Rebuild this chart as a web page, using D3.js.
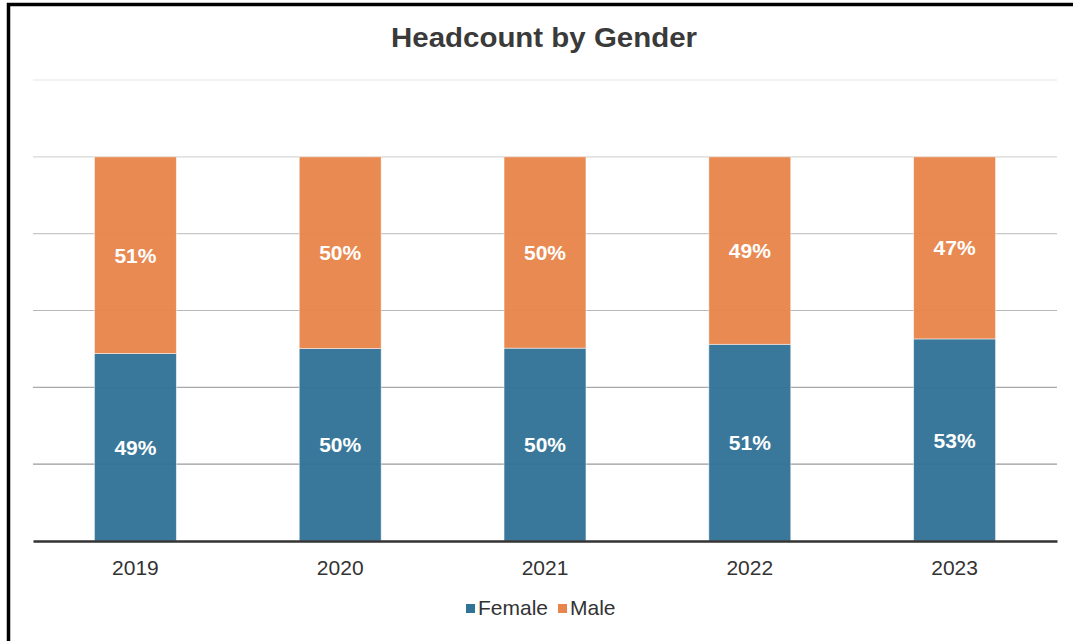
<!DOCTYPE html>
<html>
<head>
<meta charset="utf-8">
<script src="https://cdn.jsdelivr.net/npm/d3@7"></script>
<style>
  body { margin: 0; background: #fff; }
  text { font-family: "Liberation Sans", Arial, sans-serif; }
</style>
</head>
<body>
<svg id="chart"></svg>
<script>
var years = ["2019", "2020", "2021", "2022", "2023"];
var female = [48.8, 50.1, 50.2, 51.2, 52.6];
var male = [51.2, 49.9, 49.8, 48.8, 47.4];
var seriesNames = ["Female", "Male"];
var gridTicks = [0.2, 0.4, 0.6, 0.8, 1.0, 1.2];

var width = 1073,
    height = 641;

var svg = d3.select("#chart").attr("width", width).attr("height", height),
    margin = {top: 80, right: 16, bottom: 100, left: 33};

// frame (only top and left edges show in the picture)
svg.append("path")
    .attr("d", "M8.5,641V4.5H1073")
    .attr("fill", "none")
    .attr("stroke", "#000")
    .attr("stroke-width", 3.5);

var x = d3.scaleBand()
    .domain(years)
    .range([margin.left, width - margin.right])
    .paddingInner(0.6)
    .paddingOuter(0.3);

var y = d3.scaleLinear()
    .domain([0, 1.2])
    .range([height - margin.bottom, margin.top]);

var z = d3.scaleOrdinal()
    .domain(seriesNames)
    .range(["#317396", "#e8854c"]);

var gridColor = d3.scaleLinear().domain([0.2, 1.2]).range(["#9a9a9a", "#e6e6e6"]);

var data = years.map(function(d, i) { return {year: d, Female: female[i] / 100, Male: male[i] / 100}; });
var stacked = d3.stack().keys(seriesNames)(data);

svg.append("text")
    .attr("x", 544)
    .attr("y", 47)
    .attr("text-anchor", "middle")
    .attr("font-size", 27)
    .attr("font-weight", "bold")
    .attr("fill", "#3a3a3a")
    .attr("textLength", 306)
    .attr("lengthAdjust", "spacingAndGlyphs")
    .text("Headcount by Gender");

var g = svg.append("g");

g.selectAll(".grid")
    .data(gridTicks)
    .enter().append("line")
    .attr("class", "grid")
    .attr("x1", margin.left)
    .attr("x2", width - margin.right)
    .attr("y1", function(d) { return y(d); })
    .attr("y2", function(d) { return y(d); })
    .attr("stroke", function(d) { return gridColor(d); })
    .attr("stroke-width", 1.2);

var layer = g.selectAll(".layer")
    .data(stacked)
    .enter().append("g")
    .attr("class", "layer")
    .attr("fill", function(d) { return z(d.key); });

layer.selectAll("rect")
    .data(function(d) { return d; })
    .enter().append("rect")
    .attr("x", function(d) { return x(d.data.year); })
    .attr("width", x.bandwidth())
    .attr("y", function(d) { return y(d[1]); })
    .attr("height", function(d) { return y(d[0]) - y(d[1]); })
    .attr("fill-opacity", 0.96)
    .attr("stroke", "#fff")
    .attr("stroke-opacity", 0.6)
    .attr("stroke-width", 0.8);

layer.selectAll(".lbl")
    .data(function(d) { return d; })
    .enter().append("text")
    .attr("class", "lbl")
    .attr("x", function(d) { return x(d.data.year) + x.bandwidth() / 2; })
    .attr("y", function(d) { return (y(d[0]) + y(d[1])) / 2; })
    .attr("dy", "0.36em")
    .attr("text-anchor", "middle")
    .attr("fill", "#fff")
    .attr("font-size", 21)
    .attr("font-weight", "bold")
    .text(function(d) { return Math.round((d[1] - d[0]) * 100) + "%"; });

// x axis
var xAxis = g.append("g")
    .attr("transform", "translate(0," + y(0) + ")")
    .call(d3.axisBottom(x).tickSize(0).tickPadding(19));
xAxis.select(".domain").attr("stroke", "#333").attr("stroke-width", 2.5);
xAxis.selectAll("text")
    .attr("font-size", 21)
    .attr("fill", "#333")
    .attr("font-family", "Liberation Sans, Arial, sans-serif");

// legend
var legend = svg.append("g").attr("transform", "translate(466,608)");
var legendX = [0, 92];
var items = legend.selectAll("g")
    .data(seriesNames)
    .enter().append("g")
    .attr("transform", function(d, i) { return "translate(" + legendX[i] + ",0)"; });
items.append("rect")
    .attr("x", 0)
    .attr("y", -4)
    .attr("width", 9)
    .attr("height", 9)
    .attr("fill", function(d) { return z(d); });
items.append("text")
    .attr("x", 12)
    .attr("dy", "0.35em")
    .attr("font-size", 21)
    .attr("fill", "#333")
    .text(function(d) { return d; });
</script>
</body>
</html>
